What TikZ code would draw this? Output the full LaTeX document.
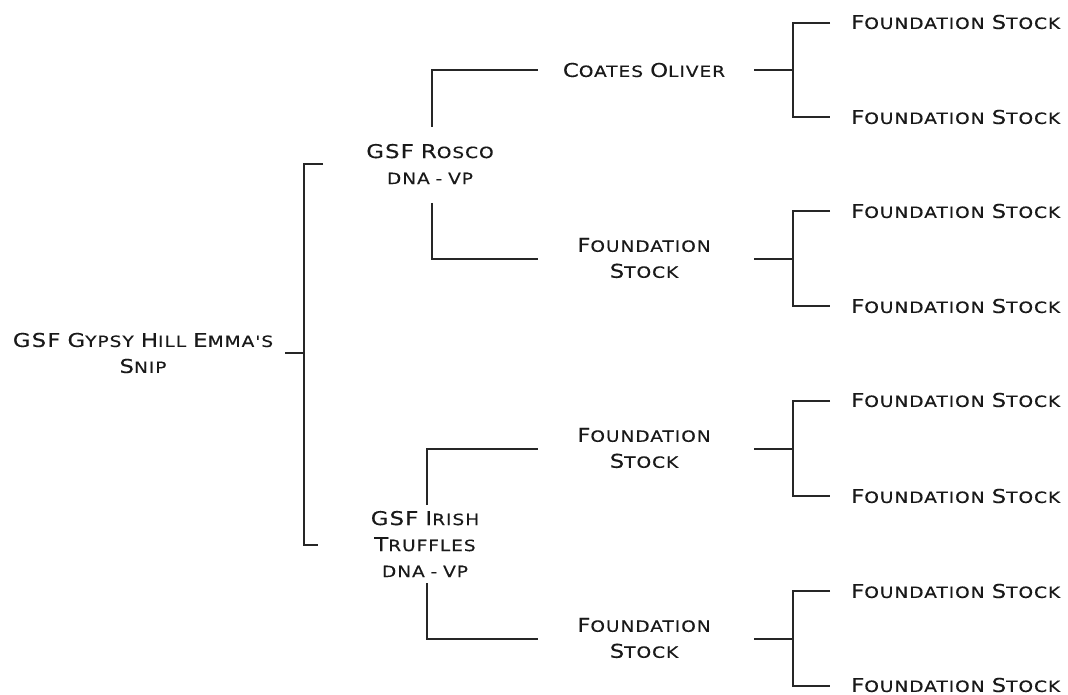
\documentclass[tikz,border=0pt]{standalone}
\usepackage{fontspec}
\newfontfamily\cpfont[FakeStretch=1.2,LetterSpace=6,WordSpace=0.85,FakeBold=0.3]{DejaVu Sans}
\newcommand\lc[1]{{\fontsize{15.5}{26}\selectfont #1}}
\begin{document}
\begin{tikzpicture}[x=1pt,y=-1pt,
  lbl/.style={font=\cpfont\fontsize{19}{26}\selectfont,text=black!90,inner sep=0pt,align=center},
  leaf/.style={lbl,anchor=west},
  con/.style={draw=black!85,line width=1.5pt}]
\useasboundingbox (0,0) rectangle (1068,695);
% nodes
\node[lbl] (root) at (143,353) {GSF G\lc{YPSY} H\lc{ILL} E\lc{MMA'S}\\S\lc{NIP}};
\node[lbl] (rosco) at (430,164) {GSF R\lc{OSCO}\\\lc{DNA - VP}};
\node[lbl] (irish) at (425,544) {GSF I\lc{RISH}\\T\lc{RUFFLES}\\\lc{DNA - VP}};
\node[lbl] (coates) at (644,70) {C\lc{OATES} O\lc{LIVER}};
\node[lbl] (fs1) at (644,258) {F\lc{OUNDATION}\\S\lc{TOCK}};
\node[lbl] (fs2) at (644,448) {F\lc{OUNDATION}\\S\lc{TOCK}};
\node[lbl] (fs3) at (644,638) {F\lc{OUNDATION}\\S\lc{TOCK}};
\foreach \i/\y in {1/22,2/117,3/211,4/306,5/400,6/496,7/591,8/685}
  \node[leaf] (l\i) at (851,\y) {F\lc{OUNDATION} S\lc{TOCK}};
% coordinates
\coordinate (r0) at (285,353); \coordinate (r1) at (304,353);
\coordinate (rt) at (323,164); \coordinate (rb) at (318,545);
% root bracket
\draw[con] (r0) -- (r1);
\draw[con] (rt) -- (304,164) -- (304,545) -- (rb);
% second level
\draw[con] (432,127) -- (432,70) -- (538,70);
\draw[con] (432,203) -- (432,259) -- (538,259);
\draw[con] (427,505) -- (427,449) -- (538,449);
\draw[con] (427,583) -- (427,639) -- (538,639);
% third level
\foreach \m/\a/\b in {70/23/117,259/211/306,449/401/496,639/591/686}{
  \draw[con] (754,\m) -- (793,\m);
  \draw[con] (830,\a) -- (793,\a) -- (793,\b) -- (830,\b);
}
\end{tikzpicture}
\end{document}
